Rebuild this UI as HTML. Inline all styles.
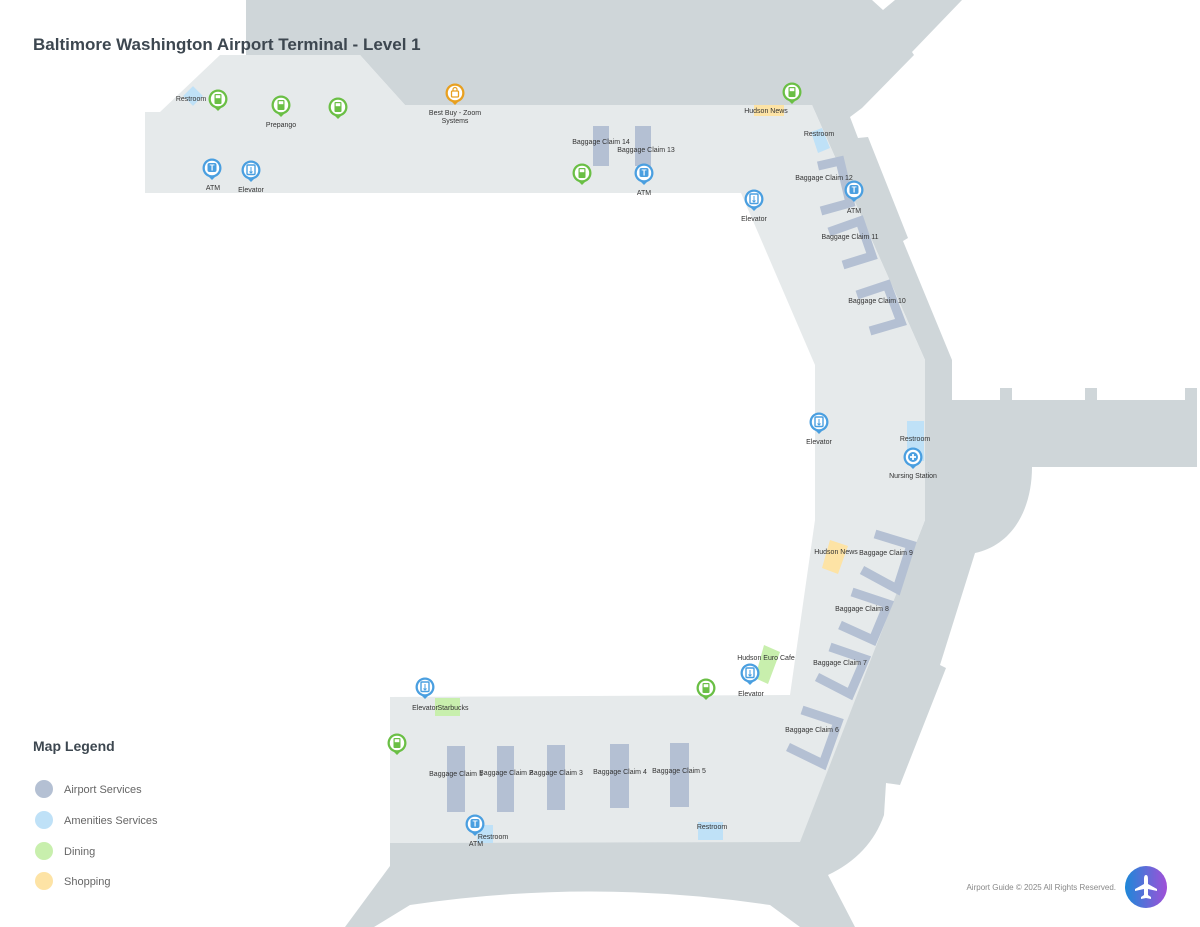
<!DOCTYPE html>
<html><head><meta charset="utf-8"><style>
html,body{margin:0;padding:0;background:#fff;width:1200px;height:927px;overflow:hidden}
svg{display:block}
text{font-family:"Liberation Sans",sans-serif}
.l{font-size:7px;fill:#333;text-anchor:middle}
</style></head><body>
<svg width="1200" height="927" viewBox="0 0 1200 927" xmlns="http://www.w3.org/2000/svg">
<defs>
<linearGradient id="g" x1="0" y1="0" x2="1" y2="0"><stop offset="0" stop-color="#1e88d8"/><stop offset="1" stop-color="#a050d8"/></linearGradient>
<g id="pb"><path d="M-6,6 L0,12 L6,6 Z" fill="#4a9fe0"/><circle r="9.5" fill="#4a9fe0"/><circle r="7.2" fill="#fff"/></g>
<g id="pg"><path d="M-6,6 L0,12 L6,6 Z" fill="#6abf45"/><circle r="9.5" fill="#6abf45"/><circle r="7.2" fill="#fff"/><rect x="-3.5" y="-5" width="7" height="10" rx="1" fill="#6abf45"/><rect x="-2.3" y="-3.8" width="4.6" height="3" fill="#fff"/></g>
<g id="atm"><use href="#pb"/><rect x="-4.5" y="-5" width="9" height="9" rx="2" fill="#4a9fe0"/><text x="0" y="2.5" font-size="8" font-weight="bold" fill="#fff" text-anchor="middle">T</text></g>
<g id="elv"><use href="#pb"/><rect x="-4" y="-5" width="8" height="9.5" rx="1" fill="none" stroke="#4a9fe0" stroke-width="1.4"/><path d="M0,-3 V3 M-1.5,1.5 L0,3 L1.5,1.5" stroke="#4a9fe0" stroke-width="1" fill="none"/></g>
</defs>
<!-- dark top -->
<path d="M246,0 L872,0 L883,10 L895,0 L962,0 L912,52 L914,55 L862,108 L850,117 L858,138 L868,137 L908,238 L903,241 L952,360 L952,553 L975,553 L940,665 L946,668 L900,785 L886,783 L884,815 Q870,855 828,875 L855,927 L800,927 L770,905 Q590,878 410,905 L374,927 L345,927 L390,866 L390,843 L800,840 L925,520 L925,360 L812,105 L405,105 L360,55 L246,55 Z" fill="#cfd6d9"/>
<!-- wing -->
<path d="M925,400 L1000,400 L1000,388 L1012,388 L1012,400 L1085,400 L1085,388 L1097,388 L1097,400 L1185,400 L1185,388 L1197,388 L1197,467 L1032,467 C1032,510 1012,545 975,553 L925,553 Z" fill="#cfd6d9"/>
<!-- light corridor -->
<path d="M145,112 L160,112 L220,55 L360,55 L405,105 L812,105 L925,360 L925,520 L800,842 L390,843 L390,697 L790,695 L815,520 L815,365 L741,193 L145,193 Z" fill="#e6eaeb"/>
<!-- baggage -->
<g fill="#b4c0d3">
<rect x="593" y="126" width="16" height="40"/><rect x="635" y="126" width="16" height="40"/>
<rect x="447" y="746" width="18" height="66"/><rect x="497" y="746" width="17" height="66"/><rect x="547" y="745" width="18" height="65"/><rect x="610" y="744" width="19" height="64"/><rect x="670" y="743" width="19" height="64"/>
</g>
<g fill="none" stroke="#b4c0d3" stroke-width="9">
<polyline points="818,166 840,161 850,203 821,211"/>
<polyline points="829,232 860,221 872,256 843,265"/>
<polyline points="857,295 887,285 901,322 870,331"/>
<polyline points="875,534 911,545 897,589 862,570"/>
<polyline points="852,592 888,604 873,640 840,625"/>
<polyline points="830,647 865,659 850,694 817,677"/>
<polyline points="802,710 838,722 823,764 788,747"/>
</g>
<!-- colored blocks -->
<rect x="186" y="89" width="14" height="14" fill="#bfe1f7" transform="rotate(45 193 96)"/>
<rect x="754" y="105" width="30" height="11" fill="#fde3a5"/>
<polygon points="811,132 822,128 830,148 818,153" fill="#bfe1f7"/>
<rect x="907" y="421" width="17" height="40" fill="#bfe1f7"/>
<polygon points="830,540 848,546 838,574 822,568" fill="#fde3a5"/>
<polygon points="764,645 780,652 768,684 755,678" fill="#c8efad"/>
<rect x="435" y="698" width="25" height="18" fill="#c8efad"/>
<rect x="477" y="825" width="16" height="18" fill="#bfe1f7"/>
<rect x="698" y="822" width="25" height="18" fill="#bfe1f7"/>
<!-- pins -->
<use href="#pg" x="218" y="99"/><use href="#pg" x="281" y="105"/><use href="#pg" x="338" y="107"/>
<use href="#pg" x="582" y="173"/><use href="#pg" x="792" y="92"/><use href="#pg" x="706" y="688"/><use href="#pg" x="397" y="743"/>
<g transform="translate(455,93)"><path d="M-6,6 L0,12 L6,6 Z" fill="#e8a020"/><circle r="9.5" fill="#e8a020"/><circle r="7.2" fill="#fff"/><rect x="-3.5" y="-2" width="7" height="6" rx="1" fill="none" stroke="#e8a020" stroke-width="1.3"/><path d="M-2,-2 V-3.5 A2,2 0 0 1 2,-3.5 V-2" fill="none" stroke="#e8a020" stroke-width="1.2"/></g>
<use href="#atm" x="212" y="168"/><use href="#elv" x="251" y="170"/><use href="#atm" x="644" y="173"/>
<use href="#elv" x="754" y="199"/><use href="#atm" x="854" y="190"/><use href="#elv" x="819" y="422"/>
<g transform="translate(913,457)"><use href="#pb"/><circle r="5" fill="#4a9fe0"/><path d="M-3,0 H3 M0,-3 V3" stroke="#fff" stroke-width="1.8"/></g>
<use href="#elv" x="750" y="673"/><use href="#elv" x="425" y="687"/><use href="#atm" x="475" y="824"/>
<!-- labels -->
<g class="l">
<text x="191" y="101">Restroom</text><text x="281" y="127">Prepango</text>
<text x="455" y="115">Best Buy - Zoom</text><text x="455" y="123">Systems</text>
<text x="213" y="190">ATM</text><text x="251" y="192">Elevator</text>
<text x="601" y="144">Baggage Claim 14</text><text x="646" y="152">Baggage Claim 13</text>
<text x="644" y="195">ATM</text><text x="766" y="113">Hudson News</text><text x="819" y="136">Restroom</text>
<text x="824" y="180">Baggage Claim 12</text><text x="854" y="213">ATM</text><text x="754" y="221">Elevator</text>
<text x="850" y="239">Baggage Claim 11</text><text x="877" y="303">Baggage Claim 10</text>
<text x="819" y="444">Elevator</text><text x="915" y="441">Restroom</text><text x="913" y="478">Nursing Station</text>
<text x="836" y="554">Hudson News</text><text x="886" y="555">Baggage Claim 9</text><text x="862" y="611">Baggage Claim 8</text>
<text x="766" y="660">Hudson Euro Cafe</text><text x="840" y="665">Baggage Claim 7</text><text x="751" y="696">Elevator</text>
<text x="812" y="732">Baggage Claim 6</text>
<text x="425" y="710">Elevator</text><text x="453" y="710">Starbucks</text>
<text x="456" y="776">Baggage Claim 1</text><text x="506" y="775">Baggage Claim 2</text><text x="556" y="775">Baggage Claim 3</text>
<text x="620" y="774">Baggage Claim 4</text><text x="679" y="773">Baggage Claim 5</text>
<text x="493" y="839">Restroom</text><text x="476" y="846">ATM</text><text x="712" y="829">Restroom</text>
</g>
<text x="33" y="50" font-size="17" font-weight="bold" fill="#3d4750">Baltimore Washington Airport Terminal - Level 1</text>
<text x="33" y="751" font-size="14" font-weight="bold" fill="#3d4750">Map Legend</text>
<circle cx="44" cy="789" r="9" fill="#b4c0d3"/><text x="64" y="793" font-size="11" fill="#666">Airport Services</text>
<circle cx="44" cy="820" r="9" fill="#bfe1f7"/><text x="64" y="824" font-size="11" fill="#666">Amenities Services</text>
<circle cx="44" cy="851" r="9" fill="#c8efad"/><text x="64" y="855" font-size="11" fill="#666">Dining</text>
<circle cx="44" cy="881" r="9" fill="#fde3a5"/><text x="64" y="885" font-size="11" fill="#666">Shopping</text>
<text x="1116" y="890" font-size="8" fill="#888" text-anchor="end">Airport Guide © 2025 All Rights Reserved.</text>
<circle cx="1146" cy="887" r="21" fill="url(#g)"/>
<path d="M1146,875 C1148,875 1148,878 1148,880 L1148,884 L1157,889 L1157,891 L1148,889 L1148,895 L1151,897 L1151,899 L1146,898 L1141,899 L1141,897 L1144,895 L1144,889 L1135,891 L1135,889 L1144,884 L1144,880 C1144,878 1144,875 1146,875 Z" fill="#fff"/>
</svg>
</body></html>
